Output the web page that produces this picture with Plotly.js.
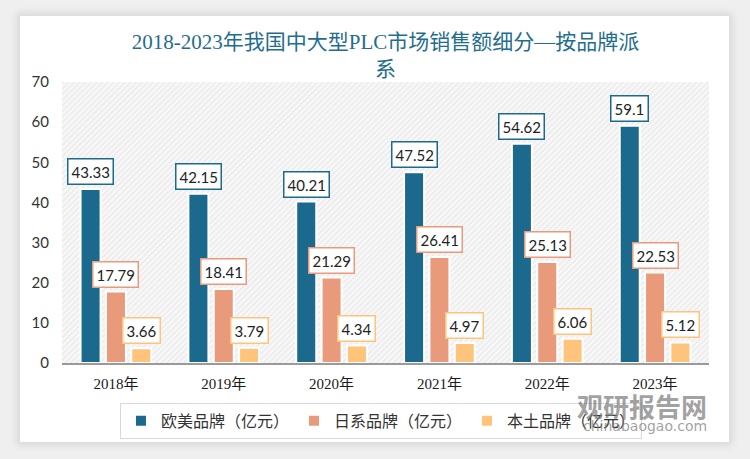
<!DOCTYPE html>
<html>
<head>
<meta charset="utf-8">
<script src="https://cdn.plot.ly/plotly-3.0.1.min.js"></script>
<style>
  html, body { margin: 0; padding: 0; width: 750px; height: 459px; background: #efefef; overflow: hidden; }
  #card { position: absolute; left: 20px; top: 16px; width: 709px; height: 426px; background: #ffffff;
          box-shadow: 0 0 8px 3px rgba(0,0,0,0.10); }
  #chart { position: absolute; left: 0; top: 0; width: 750px; height: 459px; }
</style>
</head>
<body>
<div id="card"></div>
<div id="chart"></div>
<script>
// ---- data ----
const categories = ['2018年', '2019年', '2020年', '2021年', '2022年', '2023年'];
const seriesNames = ['欧美品牌（亿元）', '日系品牌（亿元）', '本土品牌（亿元）'];
const euroUS = [43.33, 42.15, 40.21, 47.52, 54.62, 59.1];
const japan = [17.79, 18.41, 21.29, 26.41, 25.13, 22.53];
const domestic = [3.66, 3.79, 4.34, 4.97, 6.06, 5.12];
const titleText = '2018-2023年我国中大型PLC市场销售额细分—按品牌派<br>系';

// ---- styles ----
const colors = ['#1b6a8e', '#e89a7a', '#fec47b'];
const allSeries = [euroUS, japan, domestic];
const bargap = 0.295;
const slot = (1 - bargap) / 3;

const traces = allSeries.map((vals, i) => ({
  type: 'bar',
  name: seriesNames[i],
  x: categories,
  y: vals,
  marker: { color: colors[i], line: { color: '#ffffff', width: 2 } },
  hoverinfo: 'skip'
}));

const annotations = [];
allSeries.forEach((vals, i) => {
  vals.forEach((v, j) => {
    annotations.push({
      xref: 'x', yref: 'y',
      x: j + (i - 1) * slot,
      y: v,
      yanchor: 'bottom',
      yshift: 4,
      text: String(v),
      showarrow: false,
      font: { family: 'Lato, "Open Sans", sans-serif', size: 15, color: '#222222' },
      bgcolor: '#ffffff',
      bordercolor: colors[i],
      borderwidth: 1.5,
      borderpad: 3
    });
  });
});

// watermark
annotations.push({
  xref: 'paper', yref: 'paper', x: 1.0, y: -0.15, xanchor: 'right', yanchor: 'middle',
  text: '<b>观研报告网</b>', showarrow: false,
  font: { family: '"Noto Sans CJK SC", sans-serif', size: 26, color: 'rgba(120,120,120,0.7)' }
});
annotations.push({
  xref: 'paper', yref: 'paper', x: 1.0, y: -0.225, xanchor: 'right', yanchor: 'middle',
  text: 'chinabaogao.com', showarrow: false,
  font: { family: '"DejaVu Sans", sans-serif', size: 14, color: 'rgba(120,120,120,0.7)' }
});

const hatch = 'data:image/svg+xml;utf8,' + encodeURIComponent(
  '<svg xmlns="http://www.w3.org/2000/svg" width="647" height="281" viewBox="0 0 647 281" preserveAspectRatio="none">' +
  '<defs><pattern id="p" width="4" height="4" patternUnits="userSpaceOnUse" patternTransform="rotate(45)">' +
  '<rect width="4" height="4" fill="#f8f8f8"/><rect width="1.6" height="4" fill="#ebebeb"/></pattern></defs>' +
  '<rect width="647" height="281" fill="url(#p)"/></svg>');

const layout = {
  width: 750, height: 459,
  paper_bgcolor: 'rgba(0,0,0,0)',
  plot_bgcolor: 'rgba(0,0,0,0)',
  margin: { l: 62, r: 41, t: 82, b: 96 },
  barmode: 'group',
  bargap: bargap,
  bargroupgap: 0.21,
  title: {
    text: titleText,
    x: 0.5, xref: 'paper', xanchor: 'center',
    y: 0.893, yref: 'container', yanchor: 'top',
    font: { family: '"Liberation Serif", "Noto Sans CJK SC", serif', size: 21, color: '#1f6d8f' }
  },
  xaxis: {
    type: 'category',
    showline: true, linecolor: '#9a9a9a', linewidth: 2,
    showgrid: false, ticks: '',
    ticklabelstandoff: 6,
    tickfont: { family: '"Liberation Serif", "Noto Sans CJK SC", serif', size: 15, color: '#1a1a1a' }
  },
  yaxis: {
    range: [0, 70], dtick: 10, tick0: 0,
    showgrid: false, zeroline: false, showline: false, ticks: '',
    ticklabelstandoff: 12,
    tickfont: { family: 'Lato, "Open Sans", sans-serif', size: 15, color: '#333333' }
  },
  legend: {
    orientation: 'h',
    x: 0.493, xanchor: 'center',
    y: -0.142, yanchor: 'top',
    bordercolor: '#d9d9d9', borderwidth: 1,
    font: { family: '"Noto Sans CJK SC", sans-serif', size: 16, color: '#333333' },
    itemclick: false
  },
  images: [{
    source: hatch, xref: 'paper', yref: 'paper', x: 0, y: 1, sizex: 1, sizey: 1,
    xanchor: 'left', yanchor: 'top', sizing: 'stretch', layer: 'below'
  }],
  annotations: annotations,
  showlegend: true
};

Plotly.newPlot('chart', traces, layout, { displayModeBar: false, staticPlot: true });
</script>
</body>
</html>
